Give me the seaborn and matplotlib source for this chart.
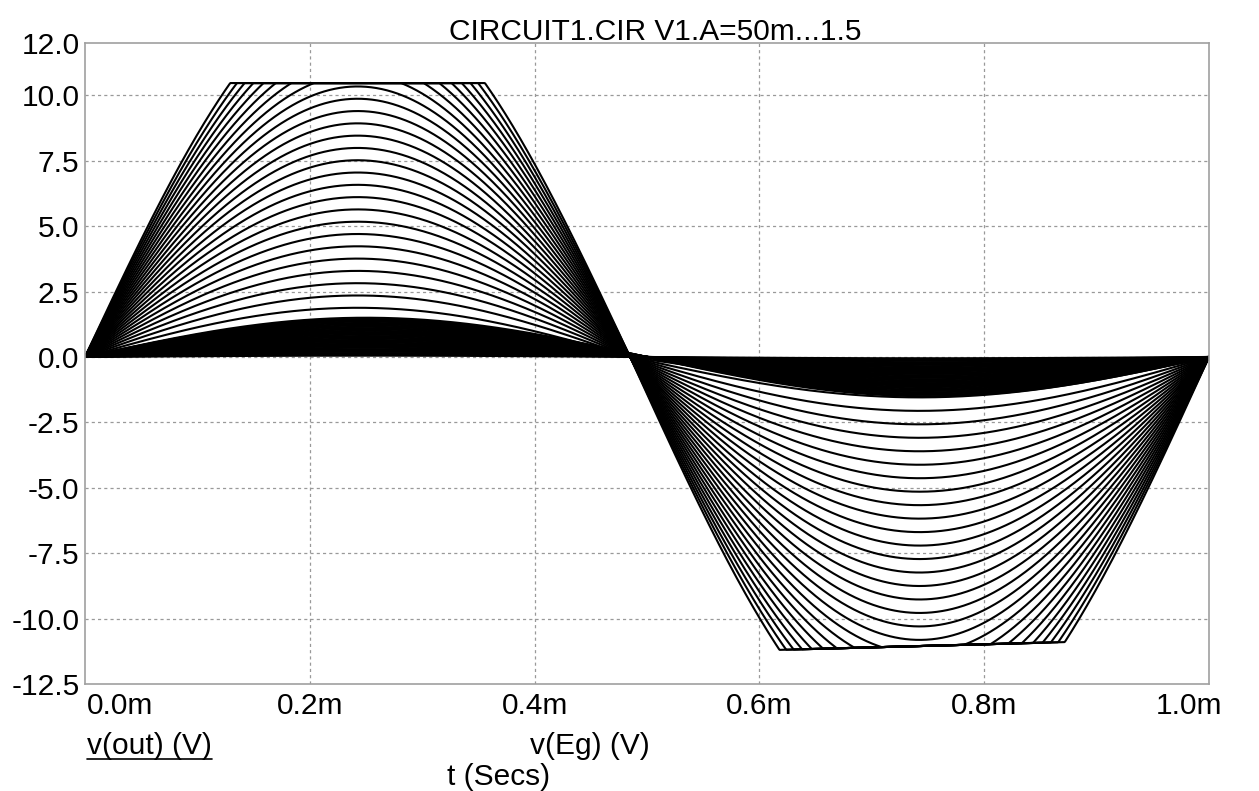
import numpy as np
import pandas as pd
import seaborn as sns
import matplotlib.pyplot as plt
from matplotlib.lines import Line2D
from matplotlib.transforms import ScaledTranslation

amplitudes = [0.05, 0.10, 0.15, 0.20, 0.25, 0.30, 0.35, 0.40, 0.45, 0.50,
              0.55, 0.60, 0.65, 0.70, 0.75, 0.80, 0.85, 0.90, 0.95, 1.00,
              1.05, 1.10, 1.15, 1.20, 1.25, 1.30, 1.35, 1.40, 1.45, 1.50]
period = 1.0e-3
gain_pos = 9.4           # v(out)/v(Eg) on the positive lobe
gain_neg = 10.3          # v(out)/v(Eg) on the negative lobe
t_split = 0.485e-3       # v(out) zero crossing between the lobes
clip_pos = 10.47
clip_neg_t = [0.615e-3, 0.871e-3]
clip_neg_v = [-11.2, -10.9]

yticks = [-12.5, -10.0, -7.5, -5.0, -2.5, 0.0, 2.5, 5.0, 7.5, 10.0, 12.0]
xticks = [0.0, 0.2e-3, 0.4e-3, 0.6e-3, 0.8e-3, 1.0e-3]
xticklabels = ['0.0m', '0.2m', '0.4m', '0.6m', '0.8m', '1.0m']

t = np.linspace(0, period, 1501)
rows = []
for i, a in enumerate(amplitudes):
    eg = a * np.sin(2 * np.pi * t / period)
    pos = gain_pos * a * np.sin(np.pi * t / t_split)
    neg = -gain_neg * a * np.sin(np.pi * (t - t_split) / (period - t_split))
    out = np.where(t < t_split, np.minimum(pos, clip_pos),
                   np.maximum(neg, np.interp(t, clip_neg_t, clip_neg_v)))
    rows.append(pd.DataFrame({'t': t, 'v': eg, 'trace': f'eg{i}'}))
    rows.append(pd.DataFrame({'t': t, 'v': out, 'trace': f'out{i}'}))
df = pd.concat(rows, ignore_index=True)

sns.set_style('white')
plt.rcParams['font.family'] = ['Liberation Sans', 'DejaVu Sans']
plt.rcParams['text.color'] = 'black'
FS = 21.5

fig = plt.figure(figsize=(12.59, 7.91), dpi=100)
ax = fig.add_axes([0.0675, 0.1353, 0.8928, 0.8103])

sns.lineplot(data=df, x='t', y='v', units='trace', estimator=None, sort=False,
             color='black', linewidth=1.5, legend=False, ax=ax)

ax.set_xlim(0, period)
ax.set_ylim(-12.5, 12.0)
ax.set_yticks(yticks)
ax.set_yticklabels([f'{v:.1f}' for v in yticks])
ax.set_xticks(xticks)
ax.set_xticklabels(xticklabels)
ax.tick_params(length=0, labelsize=FS, colors='black')
ax.tick_params(axis='y', pad=4)
ax.tick_params(axis='x', pad=6)
xl = ax.get_xticklabels()
xl[0].set_ha('left')
xl[0].set_transform(xl[0].get_transform() + ScaledTranslation(2 / 100, 0, fig.dpi_scale_trans))
xl[-1].set_ha('right')
xl[-1].set_transform(xl[-1].get_transform() + ScaledTranslation(13 / 100, 0, fig.dpi_scale_trans))

for v in yticks[1:-1]:
    ax.axhline(v, color='#999999', lw=0.9, ls=(0, (2.5, 2.5)), zorder=0)
for v in xticks[1:-1]:
    ax.axvline(v, color='#999999', lw=0.9, ls=(0, (2.5, 2.5)), zorder=0)
for s in ax.spines.values():
    s.set_color('#a0a0a0')
    s.set_linewidth(1.2)

ax.set_xlabel('')
ax.set_ylabel('')
ax.set_title('CIRCUIT1.CIR V1.A=50m...1.5', fontsize=FS, pad=2, x=0.507, color='black')

lbl_out = fig.text(87 / 1259, 1 - 746 / 791, 'v(out) (V)', fontsize=FS, va='center', color='black')
fig.text(530 / 1259, 1 - 746 / 791, 'v(Eg) (V)', fontsize=FS, va='center', color='black')
fig.text(447 / 1259, 1 - 777 / 791, 't (Secs)', fontsize=FS, va='center', color='black')

fig.canvas.draw()
bb = lbl_out.get_window_extent()
fig.add_artist(Line2D([bb.x0 / fig.bbox.width, bb.x1 / fig.bbox.width],
                      [(bb.y0 + 1) / fig.bbox.height] * 2, color='black', lw=1.2))

fig.savefig('out.png', dpi=100)
